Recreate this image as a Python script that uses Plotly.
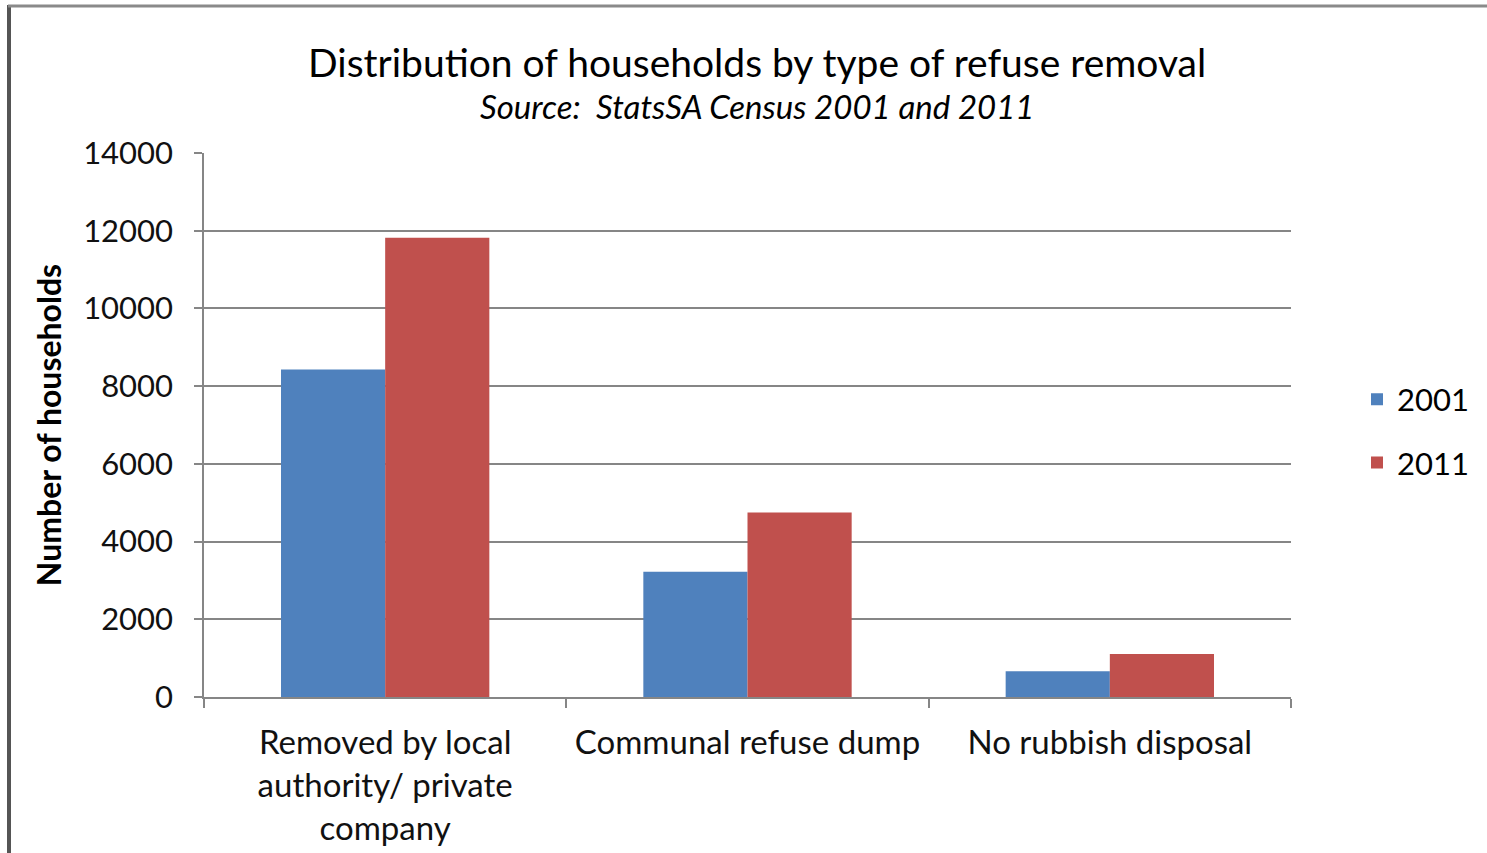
import plotly.graph_objects as go

categories = ["Removed by local<br>authority/ private<br>company", "Communal refuse dump", "No rubbish disposal"]
series_names = ["2001", "2011"]
values_2001 = [8430, 3225, 660]
values_2011 = [11820, 4745, 1105]
y_ticks = [0, 2000, 4000, 6000, 8000, 10000, 12000, 14000]

colors = ["#4F81BD", "#C0504D"]
FONT = "Lato"

fig = go.Figure()
for name, vals, col in zip(series_names, [values_2001, values_2011], colors):
    fig.add_trace(go.Bar(x=categories, y=vals, name=name, legendgroup=name,
                         marker=dict(color=col, line=dict(width=0))))

W, H = 1487, 853
L, R, T, B = 204, 196, 153, 156
pw, ph = W - L - R, H - T - B

def px_x(p):
    return (p - L) / pw

def px_y(p):
    return (H - B - p) / ph

fig.update_layout(
    width=W, height=H,
    margin=dict(l=L, r=R, t=T, b=B, autoexpand=False),
    paper_bgcolor="white", plot_bgcolor="white",
    barmode="group", bargap=0.425, bargroupgap=0,
    font=dict(family=FONT, color="#000000", size=31),
    showlegend=True,
    legend=dict(x=px_x(1357), y=px_y(431), xanchor="left", yanchor="middle",
                font=dict(size=31), traceorder="grouped", tracegroupgap=20,
                bgcolor="rgba(0,0,0,0)"),
    annotations=[
        dict(text="Distribution of households by type of refuse removal",
             x=px_x(757), y=px_y(62), xref="paper", yref="paper",
             showarrow=False, font=dict(size=39, family=FONT), xanchor="center", yanchor="middle"),
        dict(text="<i>Source:  StatsSA Census 2001 and 2011</i>",
             x=px_x(757), y=px_y(106), xref="paper", yref="paper",
             showarrow=False, font=dict(size=33, family=FONT), xanchor="center", yanchor="middle"),
    ],
    shapes=[
        dict(type="line", xref="paper", yref="paper", x0=px_x(9), x1=px_x(9), y0=px_y(5), y1=px_y(860),
             line=dict(color="#555555", width=4)),
        dict(type="line", xref="paper", yref="paper", x0=px_x(8), x1=px_x(1487), y0=px_y(6), y1=px_y(6),
             line=dict(color="#8A8A8A", width=3)),
    ],
)

fig.update_xaxes(
    automargin=False,
    showgrid=False, showline=True, linecolor="#868686", linewidth=1.5,
    ticks="outside", tickson="boundaries", ticklen=9, tickcolor="#868686", tickwidth=1.5,
    ticklabelstandoff=16,
    tickfont=dict(size=33, family=FONT, color="#111111"),
)
fig.update_yaxes(
    automargin=False,
    range=[0, 14000], tickvals=y_ticks, ticktext=[str(v) for v in y_ticks],
    showgrid=True, gridcolor="#868686", gridwidth=1.5,
    showline=True, linecolor="#868686", linewidth=1.5,
    ticks="outside", ticklen=8, tickcolor="#868686", tickwidth=1.5,
    ticklabelstandoff=15,
    tickfont=dict(size=31, family=FONT, color="#111111"),
    zeroline=False,
    title=dict(text="<b>Number of households</b>", font=dict(size=32, family=FONT), standoff=12),
)

fig.write_html("out.html", config={"displayModeBar": False},
               post_script="document.body.style.margin='0';document.body.style.overflow='hidden';")
